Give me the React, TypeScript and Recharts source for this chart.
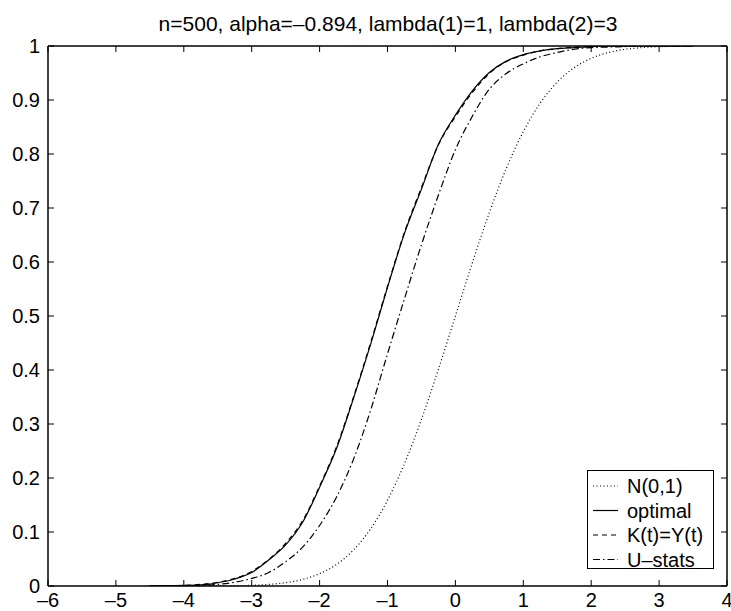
import React from 'react';
import { LineChart, Line, XAxis, YAxis } from 'recharts';

// x grid shared by all curves
const xs = [
  -4.5, -4.25, -4, -3.75, -3.5, -3.25, -3, -2.75, -2.5, -2.25, -2, -1.75, -1.5, -1.25, -1, -0.75,
  -0.5, -0.25, 0, 0.25, 0.5, 0.75, 1, 1.25, 1.5, 1.75, 2, 2.25, 2.5, 2.75, 3, 3.25, 3.5,
];

const normal = [
  0, 0, 0, 0.0001, 0.0002, 0.0006, 0.0013, 0.003, 0.0062, 0.0122, 0.0228, 0.0401, 0.0668, 0.1056, 0.1587, 0.2266,
  0.3085, 0.4013, 0.5, 0.5987, 0.6915, 0.7734, 0.8413, 0.8944, 0.9332, 0.9599, 0.9772, 0.9878, 0.9938, 0.997, 0.9987, 0.9994, 0.9998,
];

const optimal = [
  0, 0.0005, 0.001, 0.002, 0.006, 0.013, 0.025, 0.048, 0.076, 0.118, 0.183, 0.255, 0.348, 0.447, 0.553, 0.653,
  0.735, 0.818, 0.872, 0.917, 0.951, 0.972, 0.984, 0.991, 0.995, 0.997, 0.999, 1, 1, 1, 1, 1, 1,
];

const kty = [
  0, 0.0005, 0.001, 0.003, 0.007, 0.014, 0.027, 0.049, 0.079, 0.121, 0.185, 0.258, 0.35, 0.45, 0.555, 0.655,
  0.738, 0.817, 0.869, 0.914, 0.949, 0.971, 0.983, 0.991, 0.995, 0.998, 0.999, 1, 1, 1, 1, 1, 1,
];

const ustats = [
  0, 0, 0.0005, 0.001, 0.003, 0.007, 0.014, 0.025, 0.045, 0.072, 0.112, 0.165, 0.235, 0.325, 0.43, 0.532,
  0.632, 0.724, 0.808, 0.87, 0.92, 0.949, 0.967, 0.98, 0.988, 0.994, 0.997, 0.998, 0.999, 1, 1, 1, 1,
];

const xTicks = [-6, -5, -4, -3, -2, -1, 0, 1, 2, 3, 4];
const yTicks = [0, 0.1, 0.2, 0.3, 0.4, 0.5, 0.6, 0.7, 0.8, 0.9, 1];

const title = 'n=500, alpha=\u20130.894, lambda(1)=1, lambda(2)=3';

const seriesInfo = [
  { key: 'normal', name: 'N(0,1)', dash: '1 2.5' },
  { key: 'optimal', name: 'optimal', dash: undefined },
  { key: 'kty', name: 'K(t)=Y(t)', dash: '5 4' },
  { key: 'ustats', name: 'U\u2013stats', dash: '7 3 1.5 3' },
];

const data = xs.map((x, i) => ({
  x,
  normal: normal[i],
  optimal: optimal[i],
  kty: kty[i],
  ustats: ustats[i],
}));

const FONT = '"Liberation Sans", Arial, Helvetica, sans-serif';
const TICK = 6;

const fmt = (v: number) => (v < 0 ? '\u2013' + Math.abs(v) : String(v));

const BottomTick = (p: any) => (
  <g>
    <line x1={p.x} x2={p.x} y1={p.y} y2={p.y - TICK} stroke="#000" />
    <text x={p.x} y={p.y + 21} textAnchor="middle" fontSize={20} fontFamily={FONT} fill="#000">
      {fmt(p.payload.value)}
    </text>
  </g>
);
const TopTick = (p: any) => <line x1={p.x} x2={p.x} y1={p.y} y2={p.y + TICK} stroke="#000" />;
const LeftTick = (p: any) => (
  <g>
    <line x1={p.x} x2={p.x + TICK} y1={p.y} y2={p.y} stroke="#000" />
    <text x={p.x - 8} y={p.y + 7} textAnchor="end" fontSize={20} fontFamily={FONT} fill="#000">
      {String(p.payload.value)}
    </text>
  </g>
);
const RightTick = (p: any) => <line x1={p.x} x2={p.x - TICK} y1={p.y} y2={p.y} stroke="#000" />;

const LegendBox = () => (
  <svg width={128} height={100} style={{ display: 'block' }}>
    <rect x={0.5} y={0.5} width={126} height={98} fill="#fff" stroke="#000" />
    {seriesInfo.map((s, i) => {
      const cy = 16 + i * 24.5;
      return (
        <g key={s.key}>
          <line x1={6} x2={31} y1={cy} y2={cy} stroke="#000" strokeWidth={1.2} strokeDasharray={s.dash} />
          <text x={40} y={cy + 7} fontSize={20} fontFamily={FONT} fill="#000">
            {s.name}
          </text>
        </g>
      );
    })}
  </svg>
);

export default function App() {
  return (
    <div style={{ position: 'absolute', left: 0, top: 0, width: 731, height: 611, background: '#fff' }}>
      <LineChart width={731} height={611} data={data} margin={{ top: 45, right: 3, bottom: 0, left: 0 }}>
        <text x={388} y={31} textAnchor="middle" fontSize={21} fontFamily={FONT} fill="#000">
          {title}
        </text>
        <XAxis
          dataKey="x"
          type="number"
          domain={[-6, 4]}
          ticks={xTicks}
          interval={0}
          height={25}
          tickSize={0}
          tickMargin={0}
          tick={BottomTick}
          axisLine={{ stroke: '#000', strokeWidth: 1.5 }}
          allowDataOverflow
        />
        <XAxis
          xAxisId="top"
          orientation="top"
          dataKey="x"
          type="number"
          domain={[-6, 4]}
          ticks={xTicks}
          interval={0}
          height={1}
          tickSize={0}
          tickMargin={0}
          tick={TopTick}
          axisLine={{ stroke: '#000', strokeWidth: 1.5 }}
          allowDataOverflow
        />
        <YAxis
          type="number"
          domain={[0, 1]}
          ticks={yTicks}
          interval={0}
          width={48}
          tickSize={0}
          tickMargin={0}
          tick={LeftTick}
          axisLine={{ stroke: '#000', strokeWidth: 1.5 }}
          allowDataOverflow
        />
        <YAxis
          yAxisId="right"
          orientation="right"
          type="number"
          domain={[0, 1]}
          ticks={yTicks}
          interval={0}
          width={1}
          tickSize={0}
          tickMargin={0}
          tick={RightTick}
          axisLine={{ stroke: '#000', strokeWidth: 1.5 }}
          allowDataOverflow
        />
        {seriesInfo.map((s) => (
          <Line
            key={s.key}
            dataKey={s.key}
            name={s.name}
            type="monotone"
            stroke="#000"
            strokeWidth={1.2}
            strokeDasharray={s.dash}
            dot={false}
            activeDot={false}
            isAnimationActive={false}
          />
        ))}
        {/* invisible series so the top / right frame axes get drawn */}
        <Line
          xAxisId="top"
          yAxisId="right"
          dataKey="normal"
          stroke="none"
          dot={false}
          activeDot={false}
          legendType="none"
          isAnimationActive={false}
        />
      </LineChart>
      <div style={{ position: 'absolute', left: 587, top: 470 }}>
        <LegendBox />
      </div>
    </div>
  );
}
